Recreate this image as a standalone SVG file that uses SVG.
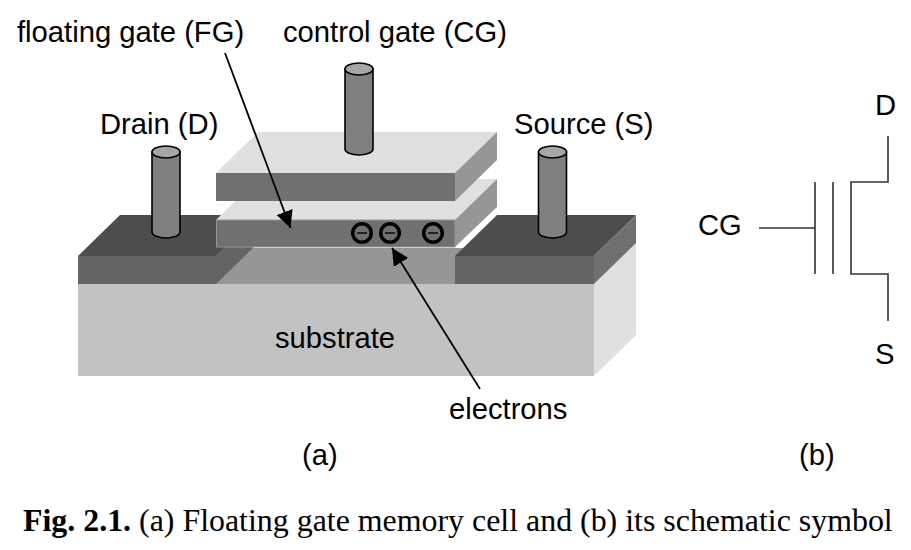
<svg xmlns="http://www.w3.org/2000/svg" width="911" height="550" viewBox="0 0 911 550">
<style>
text{font-family:"Liberation Sans",Arial,sans-serif;font-size:29.200px;fill:#000}
.cap{font-family:"Liberation Serif","Times New Roman",serif;font-size:31.900px}
.cyl{fill:#808080;stroke:#000;stroke-width:1.6}
.top{fill:#a6a6a6;stroke:#000;stroke-width:1.6}
.wire{fill:none;stroke:#333;stroke-width:1.6}
.el{fill:none;stroke:#000;stroke-width:3.500}
.minus{stroke:#222;stroke-width:2;fill:none}
.ln{stroke:#000;stroke-width:1.8;fill:none}
</style>
<defs><marker id="arr" markerUnits="userSpaceOnUse" markerWidth="20" markerHeight="20" refX="17" refY="8.500" orient="auto"><path d="M0 0L17 8.500L0 17Z" fill="#000"/></marker></defs>
<g id="substrate">
<rect x="78" y="284" width="516" height="92" fill="#c2c2c2"/>
<path d="M594 284L636 243V335L594 376Z" fill="#e0e0e0"/>
</g>
<g id="channel">
<path d="M216 248H470L455 284H216Z" fill="#969696"/>
</g>
<g id="drain-block">
<path d="M78 256L120 215H258L216 256Z" fill="#4d4d4d"/>
<rect x="78" y="256" width="138" height="28" fill="#646464"/>
<path d="M216 284V256L232 240H253V248Z" fill="#646464"/>
</g>
<g id="source-block">
<path d="M461 242L497 207V215L470 242Z" fill="#fff"/>
<path d="M455 256L497 215H636L594 256Z" fill="#4d4d4d"/>
<rect x="455" y="256" width="139" height="28" fill="#646464"/>
<path d="M594 256L636 215V243L594 284Z" fill="#707070"/>
</g>
<g id="floating-gate">
<path d="M216 220L258 179H497L455 220Z" fill="#e0e0e0"/>
<rect x="216.500" y="220" width="238.500" height="27" fill="#707070" stroke="#969696" stroke-width="1"/>
<path d="M455 220L497 179V207L455 247Z" fill="#969696"/>
</g>
<g id="control-gate">
<path d="M216 173L258 132H497L455 173Z" fill="#e0e0e0"/>
<rect x="216" y="173" width="239" height="28" fill="#707070"/>
<path d="M455 173L497 132V160L455 201Z" fill="#969696"/>
</g>
<g id="drain-pin">
<path class="cyl" d="M152 152V232A14 6 0 0 0 180 232V152Z"/>
<ellipse class="top" cx="166" cy="152" rx="14" ry="6"/>
</g>
<g id="gate-pin">
<path class="cyl" d="M345 69V149A14 6 0 0 0 373 149V69Z"/>
<ellipse class="top" cx="359" cy="69" rx="14" ry="6"/>
</g>
<g id="source-pin">
<path class="cyl" d="M538.500 152V232A14 6 0 0 0 566.500 232V152Z"/>
<ellipse class="top" cx="552.500" cy="152" rx="14" ry="6"/>
</g>
<g id="electrons">
<circle class="el" cx="362" cy="233" r="9.300"/><path class="minus" d="M357 233H367"/>
<circle class="el" cx="390" cy="233" r="9.300"/><path class="minus" d="M385 233H395"/>
<circle class="el" cx="433" cy="233" r="9.300"/><path class="minus" d="M428 233H438"/>
</g>
<g id="connectors">
<path class="ln" d="M225 53L290.500 228" marker-end="url(#arr)"/>
<path class="ln" d="M480 389L392 248" marker-end="url(#arr)"/>
</g>
<g id="symbol">
<path class="wire" d="M759 228H815M815 182V274M833 182V274M888 136V182H851V274H888V321"/>
</g>
<g id="labels">
<text x="17" y="42">floating gate (FG)</text>
<text x="283" y="42">control gate (CG)</text>
<text x="100" y="134">Drain (D)</text>
<text x="514" y="134">Source (S)</text>
<text x="275" y="348">substrate</text>
<text x="449" y="419">electrons</text>
<text x="302" y="465">(a)</text>
<text x="799" y="465">(b)</text>
<text x="698" y="235">CG</text>
<text x="875" y="115">D</text>
<text x="875" y="364">S</text>
<text class="cap" x="23" y="531"><tspan font-weight="bold">Fig. 2.1.</tspan> (a) Floating gate memory cell and (b) its schematic symbol</text>
</g>
</svg>
